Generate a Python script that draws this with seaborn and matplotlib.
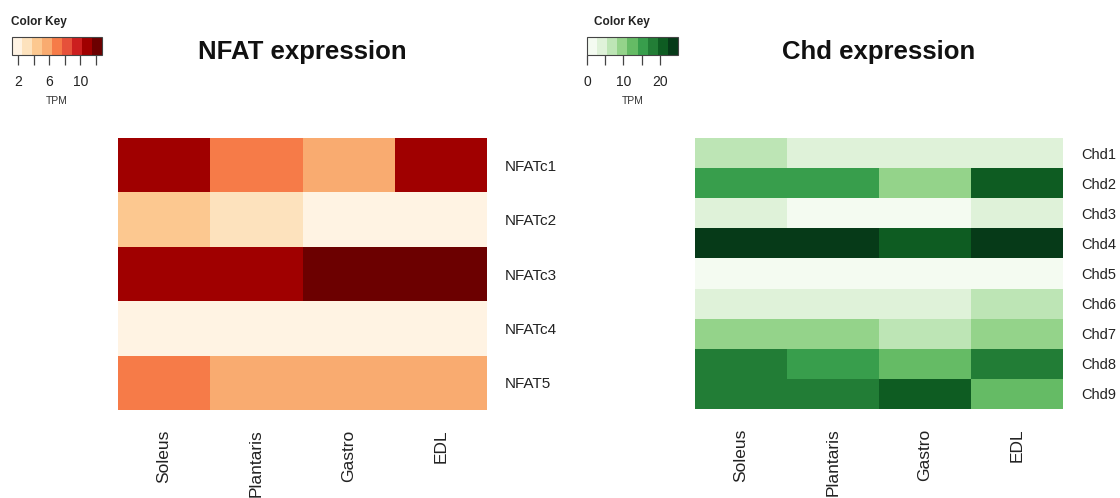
import numpy as np
import pandas as pd
import seaborn as sns
import matplotlib
matplotlib.use("Agg")
import matplotlib.pyplot as plt
from matplotlib.colors import ListedColormap

# ---------------- data ----------------
tissues = ["Soleus", "Plantaris", "Gastro", "EDL"]

nfat_genes = ["NFATc1", "NFATc2", "NFATc3", "NFATc4", "NFAT5"]
nfat_soleus = [11.2, 4.5, 10.8, 1.2, 7.3]
nfat_plantaris = [7.1, 3.2, 11.1, 1.3, 5.6]
nfat_gastro = [5.9, 1.6, 12.8, 1.2, 5.8]
nfat_edl = [11.0, 1.5, 12.4, 1.3, 5.5]

chd_genes = ["Chd1", "Chd2", "Chd3", "Chd4", "Chd5", "Chd6", "Chd7", "Chd8", "Chd9"]
chd_soleus = [7.0, 15.2, 3.5, 24.0, 0.3, 4.5, 10.2, 18.2, 18.0]
chd_plantaris = [4.2, 15.0, 1.2, 23.5, 0.2, 4.6, 10.0, 15.3, 18.4]
chd_gastro = [4.0, 9.8, 1.0, 20.5, 0.0, 4.2, 6.8, 12.5, 21.2]
chd_edl = [4.3, 21.0, 3.8, 25.0, 0.4, 7.2, 9.7, 17.8, 12.3]

nfat_ticks = [2, 4, 6, 8, 10, 12]
nfat_ticklabels = ["2", "", "6", "", "10", ""]
chd_ticks = [0, 5, 10, 15, 20]
chd_ticklabels = ["0", "", "10", "", "20"]

# ---------------- styling ----------------
sns.set_theme(style="white")
plt.rcParams["font.family"] = ["Liberation Sans", "DejaVu Sans"]

orrd = ListedColormap(["#fff3e3", "#fde2bd", "#fcc890", "#f9ab70", "#f67b48",
                       "#e6513a", "#cc1f1f", "#a00000", "#6c0000"])
greens = ListedColormap(["#f4fbf1", "#dff2d9", "#bde5b5", "#94d38a", "#65bb65",
                         "#389e4c", "#227d36", "#0e5c22", "#063a18"])

nfat_df = pd.DataFrame({"Soleus": nfat_soleus, "Plantaris": nfat_plantaris,
                        "Gastro": nfat_gastro, "EDL": nfat_edl}, index=nfat_genes)[tissues]
chd_df = pd.DataFrame({"Soleus": chd_soleus, "Plantaris": chd_plantaris,
                       "Gastro": chd_gastro, "EDL": chd_edl}, index=chd_genes)[tissues]

W, H = 1120, 498
fig = plt.figure(figsize=(W / 100, H / 100), dpi=100)


def box(x0, y0, x1, y1):
    return [x0 / W, 1 - y1 / H, (x1 - x0) / W, (y1 - y0) / H]


def panel(df, cmap, vmin, vmax, hm_box, cb_box, key_x, title, ticks, ticklabels, rowsize):
    ax = fig.add_axes(box(*hm_box))
    cax = fig.add_axes(box(*cb_box))
    sns.heatmap(df, ax=ax, cmap=cmap, vmin=vmin, vmax=vmax, cbar=True, cbar_ax=cax,
                cbar_kws={"orientation": "horizontal"}, linewidths=0)
    ax.yaxis.tick_right()
    ax.set_yticklabels(df.index, rotation=0, fontsize=rowsize, color="#222222")
    ax.set_xticklabels(df.columns, rotation=90, fontsize=12.5, color="#222222", va="top")
    ax.tick_params(axis="y", length=0, pad=13)
    ax.tick_params(axis="x", length=0, pad=14)
    ax.set_xlabel("")
    ax.set_ylabel("")
    # colour key
    cb = ax.collections[0].colorbar
    cb.outline.set_visible(True)
    cb.outline.set_edgecolor("#444444")
    cb.outline.set_linewidth(0.8)
    cax.set_xticks(ticks)
    cax.set_xticklabels(ticklabels, fontsize=10, color="#222222")
    cax.tick_params(axis="x", length=7.5, width=0.9, color="#444444", pad=7, bottom=True)
    cax.set_xlabel("")
    cx = (cb_box[0] + cb_box[2]) / 2
    fig.text(cx / W, 1 - 100.5 / H, "TPM", ha="center", va="center",
             fontsize=7.5, color="#333333")
    fig.text(key_x / W, 1 - 22 / H, "Color Key", ha="center", va="center",
             fontsize=8.5, fontweight="bold", color="#222222")
    hx = (hm_box[0] + hm_box[2]) / 2
    fig.text(hx / W, 1 - 59.5 / H, title, ha="center", va="baseline",
             fontsize=18.5, fontweight="bold", color="#111111")


panel(nfat_df, orrd, 1.2, 12.8, (118, 138, 487, 410), (12, 37, 102, 55), 39,
      "NFAT expression", nfat_ticks, nfat_ticklabels, 11)
panel(chd_df, greens, 0, 25, (695, 138, 1063, 409), (587, 37, 678, 55), 622,
      "Chd expression", chd_ticks, chd_ticklabels, 10.5)

fig.savefig("out.png", dpi=100, facecolor="white")
